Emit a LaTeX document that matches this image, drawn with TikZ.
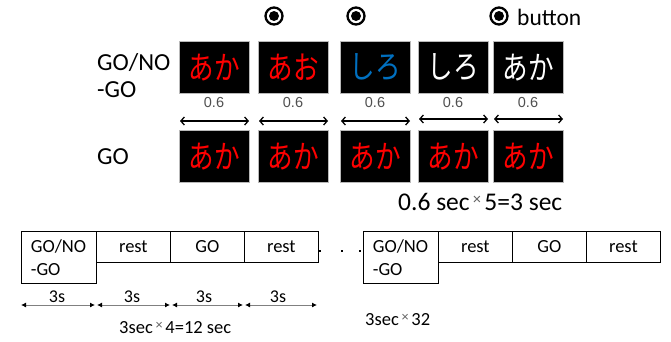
\documentclass[tikz,border=0pt]{standalone}
\usepackage{fontspec}
\setmainfont{Carlito}
\newfontfamily\jp[FakeStretch=0.8]{Noto Sans CJK JP}
\newfontfamily\arialf{Liberation Sans}
\usetikzlibrary{arrows.meta}
\definecolor{kred}{HTML}{FF0000}
\definecolor{kblue}{HTML}{0070C0}
\definecolor{lbl}{HTML}{505050}
\definecolor{xgray}{HTML}{606060}
\newcommand{\smallx}[2]{{\hspace{#1}\raisebox{0.5ex}{\arialf\fontsize{#2}{#2}\selectfont\color{xgray}×}\hspace{#1}}}
\begin{document}
\begin{tikzpicture}[x=1pt,y=-1pt,
  stim/.style={draw=gray!55, line width=0.6pt, fill=black, minimum width=70pt, minimum height=52pt, inner sep=0pt, anchor=north west, font=\jp\fontsize{32}{32}\selectfont},
  durlbl/.style={font=\arialf\fontsize{14.5}{14.5}\selectfont, text=lbl, inner sep=0pt},
  durarrow/.style={line width=1.3pt, {Straight Barb[length=3.5pt,width=8pt]}-{Straight Barb[length=3.5pt,width=8pt]}},
  rowlbl/.style={font=\fontsize{24.5}{27}\selectfont, align=left, anchor=west, inner sep=0pt},
  btn/.style={circle, draw, line width=2.3pt, minimum size=17pt, inner sep=0pt},
  blk/.style={draw, line width=0.7pt, anchor=north west, inner sep=0pt, font=\fontsize{18.5}{23}\selectfont, minimum width=74pt, minimum height=31pt},
  blktall/.style={blk, minimum width=75pt, minimum height=52pt, align=left, text width=56pt},
  tarrow/.style={draw=gray, line width=0.9pt, {Latex[length=5pt,width=5pt,color=black]}-{Latex[length=5pt,width=5pt,color=black]}},
  tlbl/.style={font=\fontsize{18}{20}\selectfont, inner sep=0pt},
  note/.style={font=\fontsize{25.5}{28}\selectfont, inner sep=0pt},
  btnlbl/.style={font=\fontsize{23.5}{26}\selectfont, inner sep=0pt},
  bignote/.style={font=\fontsize{18.5}{20}\selectfont, inner sep=0pt},
  dotmark/.style={fill=black, minimum size=2.2pt, inner sep=0pt}
]
\useasboundingbox (0,0) rectangle (671,341);

% row labels
\node[rowlbl] (lgng) at (97,76) {GO/NO\\-GO};
\node[rowlbl] (lgo) at (97,157) {GO};

% buttons
\node[btn] (b1) at (274,16) {};
\fill (b1.center) circle[radius=5pt];
\node[btn] (b2) at (356,16) {};
\fill (b2.center) circle[radius=5pt];
\node[btn] (b3) at (499,16) {};
\fill (b3.center) circle[radius=5pt];
\node[btnlbl, anchor=west] (btxt) at (517,17) {button};

% top row stimuli
\node[stim, text=kred] (t1) at (179,41) {あか};
\node[stim, text=kred] (t2) at (258,41) {あお};
\node[stim, text=kblue] (t3) at (340,41) {しろ};
\node[stim, text=white] (t4) at (418,41) {しろ};
\node[stim, text=white] (t5) at (493,41) {あか};

% 0.6 labels
\node[durlbl] (d1) at (214,103) {0.6};
\node[durlbl] (d2) at (293,103) {0.6};
\node[durlbl] (d3) at (375,103) {0.6};
\node[durlbl] (d4) at (453,103) {0.6};
\node[durlbl] (d5) at (528,103) {0.6};

% duration arrows
\coordinate (a1l) at (180,121); \coordinate (a1r) at (249,121);
\coordinate (a2l) at (259,121); \coordinate (a2r) at (328,121);
\coordinate (a3l) at (341,121); \coordinate (a3r) at (410,121);
\coordinate (a4l) at (419,119); \coordinate (a4r) at (488,119);
\coordinate (a5l) at (494,119); \coordinate (a5r) at (563,119);
\draw[durarrow] (a1l) -- (a1r);
\draw[durarrow] (a2l) -- (a2r);
\draw[durarrow] (a3l) -- (a3r);
\draw[durarrow] (a4l) -- (a4r);
\draw[durarrow] (a5l) -- (a5r);

% bottom row stimuli
\node[stim, text=kred] (g1) at (179,130) {あか};
\node[stim, text=kred] (g2) at (258,130) {あか};
\node[stim, text=kred] (g3) at (340,130) {あか};
\node[stim, text=kred] (g4) at (418,130) {あか};
\node[stim, text=kred] (g5) at (493,130) {あか};

\node[note, anchor=west] (n1) at (398,202) {0.6 sec\smallx{3pt}{15}5=3 sec};

% timeline
\node[blktall] (p1) at (21,231) {GO/NO\\-GO};
\node[blk] (p2) at (96,231) {rest};
\node[blk] (p3) at (170,231) {GO};
\node[blk] (p4) at (244,231) {rest};
\node[dotmark] (dt1) at (320,251) {};
\node[dotmark] (dt2) at (342,251) {};
\node[dotmark] (dt3) at (360,251) {};
\node[blktall] (q1) at (363,231) {GO/NO\\-GO};
\node[blk] (q2) at (438,231) {rest};
\node[blk] (q3) at (512,231) {GO};
\node[blk] (q4) at (586,231) {rest};

% timeline arrows
\coordinate (e0) at (21,305); \coordinate (e1) at (95,305);
\coordinate (f1) at (97,305); \coordinate (f2) at (170,305);
\coordinate (g1a) at (172,305); \coordinate (g2a) at (243,305);
\coordinate (h1) at (245,305); \coordinate (h2) at (317,305);
\draw[tarrow] (e0) -- (e1);
\draw[tarrow] (f1) -- (f2);
\draw[tarrow] (g1a) -- (g2a);
\draw[tarrow] (h1) -- (h2);
\node[tlbl] (s1) at (57,297) {3s};
\node[tlbl] (s2) at (132,297) {3s};
\node[tlbl] (s3) at (204,297) {3s};
\node[tlbl] (s4) at (278,297) {3s};

\node[bignote, anchor=west] (n2) at (119,328) {3sec\smallx{2.5pt}{13}4=12 sec};
\node[bignote, anchor=west] (n3) at (365,320) {3sec\smallx{2.5pt}{13}32};
\end{tikzpicture}
\end{document}
